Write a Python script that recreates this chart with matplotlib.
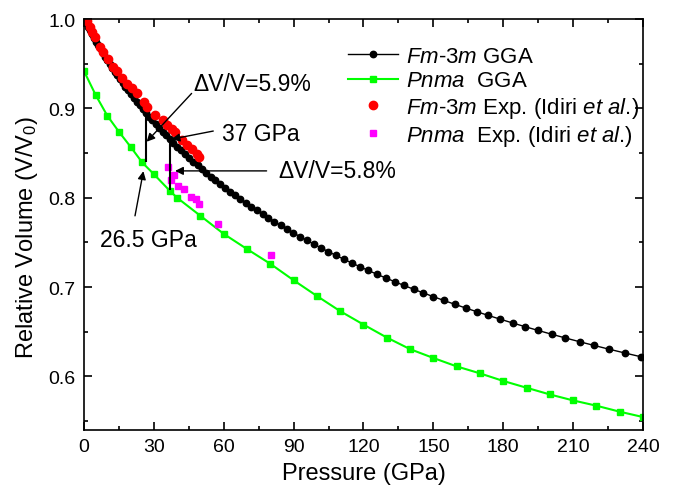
import matplotlib
matplotlib.use('Agg')
import matplotlib.pyplot as plt
from matplotlib.ticker import MultipleLocator

plt.rcParams['font.family'] = ['Liberation Sans', 'DejaVu Sans']
plt.rcParams['mathtext.fontset'] = 'custom'
plt.rcParams['mathtext.rm'] = 'Liberation Sans'
plt.rcParams['mathtext.it'] = 'Liberation Sans:italic'

# Fm-3m GGA (black)
fm_p = [0.0, 0.83, 1.68, 2.54, 3.42, 4.32, 5.23, 6.17, 7.12, 8.09, 9.07, 10.08,
        11.11, 12.16, 13.23, 14.32, 15.44, 16.58, 17.74, 18.92, 20.13, 21.37,
        22.63, 23.91, 25.23, 26.57, 27.94, 29.34, 30.77, 32.23, 33.72, 35.25,
        36.81, 38.40, 40.03, 41.69, 43.40, 45.14, 46.92, 48.74, 50.60, 52.51,
        54.46, 56.45, 58.49, 60.58, 62.72, 64.91, 67.15, 69.44, 71.79, 74.20,
        76.66, 79.19, 81.77, 84.43, 87.14, 89.93, 92.79, 95.71, 98.72, 101.80,
        104.95, 108.19, 111.52, 114.93, 118.43, 122.03, 125.72, 129.51, 133.40,
        137.39, 141.50, 145.72, 150.05, 154.51, 159.09, 163.80, 168.64, 173.62,
        178.75, 184.02, 189.44, 195.03, 200.78, 206.69, 212.79, 219.07, 225.53,
        232.20, 239.07]
fm_v = [1.0000, 0.9958, 0.9916, 0.9874, 0.9832, 0.9790, 0.9748, 0.9706, 0.9664,
        0.9622, 0.9580, 0.9538, 0.9496, 0.9454, 0.9412, 0.9370, 0.9328, 0.9286,
        0.9244, 0.9202, 0.9160, 0.9118, 0.9076, 0.9034, 0.8992, 0.8950, 0.8908,
        0.8866, 0.8824, 0.8782, 0.8740, 0.8698, 0.8656, 0.8614, 0.8572, 0.8530,
        0.8488, 0.8446, 0.8404, 0.8362, 0.8320, 0.8278, 0.8236, 0.8194, 0.8152,
        0.8110, 0.8068, 0.8026, 0.7984, 0.7942, 0.7900, 0.7858, 0.7816, 0.7774,
        0.7732, 0.7690, 0.7648, 0.7606, 0.7564, 0.7522, 0.7480, 0.7438, 0.7396,
        0.7354, 0.7312, 0.7270, 0.7228, 0.7186, 0.7144, 0.7102, 0.7060, 0.7018,
        0.6976, 0.6934, 0.6892, 0.6850, 0.6808, 0.6766, 0.6724, 0.6682, 0.6640,
        0.6598, 0.6556, 0.6514, 0.6472, 0.6430, 0.6388, 0.6346, 0.6304, 0.6262,
        0.6220]

# Pnma GGA (green)
pn_p = [0, 5, 10, 15, 20, 25, 30, 37, 40, 50, 60, 70, 80, 90, 100, 110, 120,
        130, 140, 150, 160, 170, 180, 190, 200, 210, 220, 230, 240]
pn_v = [0.9417, 0.9150, 0.8918, 0.8738, 0.8570, 0.8394, 0.8263, 0.8073, 0.7999,
        0.7797, 0.7595, 0.7425, 0.7260, 0.7076, 0.6900, 0.6730, 0.6580, 0.6435,
        0.6305, 0.6206, 0.6112, 0.6034, 0.5949, 0.5873, 0.5798, 0.5731, 0.5672,
        0.5605, 0.5545]

# Fm-3m experiment (red)
fm_exp_p = [0.0, 1.2, 2.6, 3.3, 4.7, 6.9, 8.3, 10.4, 12.6, 14.0, 16.2, 18.3,
            20.5, 22.6, 25.8, 27.2, 30.5, 33.8, 35.5, 37.7, 39.1, 42.0, 44.1,
            46.2, 48.4, 49.5]
fm_exp_v = [1.0000, 0.9978, 0.9915, 0.9859, 0.9803, 0.9691, 0.9635, 0.9548,
            0.9467, 0.9417, 0.9336, 0.9268, 0.9224, 0.9168, 0.9075, 0.9018,
            0.8924, 0.8868, 0.8812, 0.8768, 0.8740, 0.8644, 0.8588, 0.8543,
            0.8484, 0.8458]

# Pnma experiment (magenta)
pn_exp_p = [35.9, 37.4, 38.6, 40.5, 43.1, 45.9, 48.1, 49.4, 57.4, 80.2]
pn_exp_v = [0.8346, 0.8196, 0.8252, 0.8129, 0.8095, 0.8010, 0.7991, 0.7935,
            0.7711, 0.7356]

# transition markers
trans_p = [26.5, 37.0]
trans_top = [0.894, 0.866]
trans_bot = [0.8394, 0.8084]

fig = plt.figure(figsize=(6.73, 4.89), dpi=100)
ax = fig.add_axes([0.1248, 0.1186, 0.8306, 0.8405])

ax.plot(fm_p, fm_v, '-o', color='k', lw=1, ms=4.6,
        label=r'$\mathit{Fm}$-$\mathit{3m}$ GGA')
ax.plot(pn_p, pn_v, '-s', color='#00ff00', lw=1.5, ms=4.6,
        label=r'$\mathit{Pnma}$  GGA')
ax.plot(fm_exp_p, fm_exp_v, 'o', color='#ff0000', ms=6, ls='none',
        label=r'$\mathit{Fm}$-$\mathit{3m}$ Exp. (Idiri $\mathit{et\ al}$.)')
ax.plot(pn_exp_p, pn_exp_v, 's', color='#ff00ff', ms=4.6, ls='none',
        label=r'$\mathit{Pnma}$  Exp. (Idiri $\mathit{et\ al}$.)')

ax.vlines(trans_p, trans_bot, trans_top, colors='k', lw=1.5)

arrow = dict(arrowstyle='-|>', color='k', lw=1, mutation_scale=12,
             shrinkA=0, shrinkB=0)
ax.annotate('', xy=(26.9, 0.8626), xytext=(46.2, 0.9167), arrowprops=arrow)
ax.annotate('', xy=(37.6, 0.8655), xytext=(55.5, 0.8746), arrowprops=arrow)
ax.annotate('', xy=(39.1, 0.830), xytext=(78.4, 0.830), arrowprops=arrow)
ax.annotate('', xy=(25.5, 0.8297), xytext=(21.9, 0.7797), arrowprops=arrow)

ax.text(46.8, 0.928, '\u0394V/V=5.9%', fontsize=16.5, ha='left', va='center')
ax.text(59.1, 0.872, '37 GPa', fontsize=16.5, ha='left', va='center')
ax.text(83.3, 0.830, '\u0394V/V=5.8%', fontsize=16.5, ha='left', va='center')
ax.text(27.5, 0.753, '26.5 GPa', fontsize=16.5, ha='center', va='center')

ax.set_xlim(0, 240)
ax.set_ylim(0.54, 1.0)
ax.xaxis.set_major_locator(MultipleLocator(30))
ax.xaxis.set_minor_locator(MultipleLocator(15))
ax.yaxis.set_major_locator(MultipleLocator(0.1))
ax.yaxis.set_minor_locator(MultipleLocator(0.05))
ax.tick_params(which='both', direction='in', top=True, right=True,
               labelsize=14, pad=6, width=1.2)
ax.tick_params(which='major', length=5.5)
ax.tick_params(which='minor', length=3)
for s in ax.spines.values():
    s.set_linewidth(1.2)

ax.set_xlabel('Pressure (GPa)', fontsize=17, labelpad=5)
ax.set_ylabel('Relative Volume (V/V$_0$)', fontsize=17)
ax.yaxis.set_label_coords(-0.078, 0.47)

ax.legend(loc='upper left', bbox_to_anchor=(0.472, 0.934), frameon=False,
          fontsize=16, numpoints=1, handlelength=2.25, handletextpad=0.36,
          labelspacing=0.15, borderpad=0, borderaxespad=0)

fig.savefig('out.png', dpi=100)
